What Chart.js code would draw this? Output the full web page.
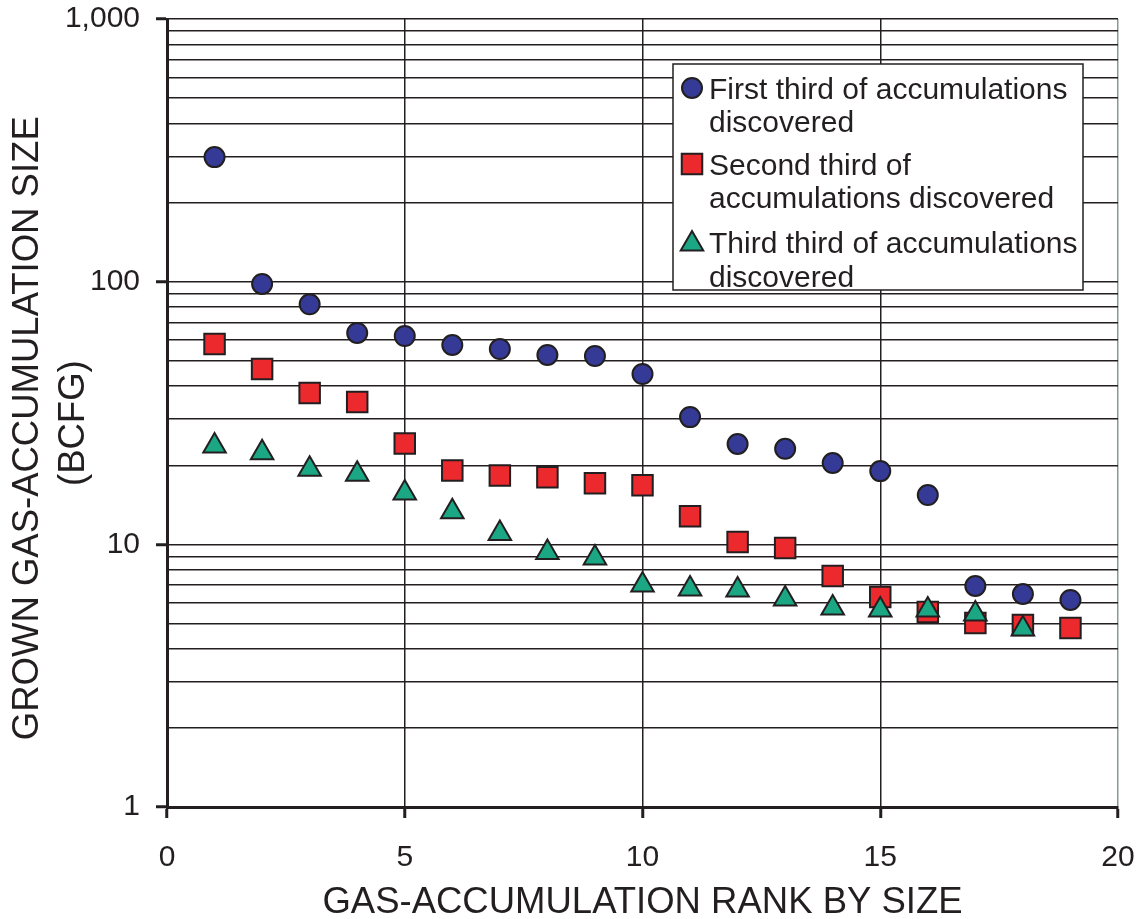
<!DOCTYPE html>
<html>
<head>
<meta charset="utf-8">
<script src="https://cdn.jsdelivr.net/npm/chart.js@4.4.1/dist/chart.umd.min.js"></script>
<style>
  html, body { margin: 0; padding: 0; background: #fff; }
  canvas { display: block; }
</style>
</head>
<body>
<canvas id="rankChart" width="1143" height="919"></canvas>
<script>
// gas-accumulation rank (x) and grown size in BCFG (y)
var ranks = [1, 2, 3, 4, 5, 6, 7, 8, 9, 10, 11, 12, 13, 14, 15, 16, 17, 18, 19];
var firstThird = [298, 98, 82, 63.8, 62.1, 57.4, 55.4, 52.6, 52.1, 44.5, 30.5, 24.1, 23.1, 20.4, 19.0, 15.4, 6.94, 6.47, 6.14];
var secondThird = [57.9, 46.5, 37.7, 34.8, 24.2, 19.1, 18.3, 18.0, 17.1, 16.8, 12.8, 10.2, 9.68, 7.57, 6.30, 5.53, 5.02, 4.93, 4.80];
var thirdThird = [23.7, 22.3, 19.3, 18.5, 15.7, 13.3, 11.0, 9.31, 8.87, 7.0, 6.76, 6.70, 6.19, 5.72, 5.62, 5.62, 5.43, 4.76];

var seriesNames = [
  ['First third of accumulations', 'discovered'],
  ['Second third of', 'accumulations discovered'],
  ['Third third of accumulations', 'discovered']
];
var xTickStep = 5;
var yDecades = [1, 10, 100, 1000];

var ink = '#231f20';
var fontFamily = '"Liberation Sans", Arial, Helvetica, sans-serif';

// every 1..9 multiple of each decade gets a grid line
var yGridValues = [];
yDecades.forEach(function (d, i) {
  if (i === yDecades.length - 1) { yGridValues.push(d); return; }
  for (var m = 1; m <= 9; m++) yGridValues.push(d * m);
});

function isDecade(v) {
  var l = Math.log10(v);
  return Math.abs(l - Math.round(l)) < 1e-9;
}

function toPoints(values) {
  return values.map(function (v, i) { return { x: ranks[i], y: v }; });
}

// legend drawn by hand so each label can wrap onto two lines
var boxLegend = {
  id: 'boxLegend',
  afterDraw: function (chart) {
    var ctx = chart.ctx;
    var ds = chart.data.datasets;
    var left = 673, top = 64, w = 410, h = 226;
    ctx.save();
    ctx.fillStyle = '#fff';
    ctx.fillRect(left, top, w, h);
    ctx.lineWidth = 1.5;
    ctx.strokeStyle = ink;
    ctx.strokeRect(left, top, w, h);

    ctx.font = '30px ' + fontFamily;
    ctx.textBaseline = 'alphabetic';
    ctx.textAlign = 'left';
    var baselines = [[99, 132], [175, 208], [253, 287]];
    ds.forEach(function (d, i) {
      var cx = 692, cy = baselines[i][0] - 11;
      ctx.beginPath();
      if (d.pointStyle === 'circle') {
        ctx.arc(cx, cy, d.pointRadius, 0, Math.PI * 2);
      } else if (d.pointStyle === 'rect') {
        var s = d.pointRadius * Math.SQRT1_2;
        ctx.rect(cx - s, cy - s, 2 * s, 2 * s);
      } else {
        var r = d.pointRadius;
        cy += 2;
        ctx.moveTo(cx, cy - r);
        ctx.lineTo(cx + Math.sin(2 * Math.PI / 3) * r, cy + r / 2);
        ctx.lineTo(cx - Math.sin(2 * Math.PI / 3) * r, cy + r / 2);
        ctx.closePath();
      }
      ctx.fillStyle = d.backgroundColor;
      ctx.fill();
      ctx.lineWidth = d.borderWidth;
      ctx.strokeStyle = d.borderColor;
      ctx.stroke();

      ctx.fillStyle = ink;
      d.label.forEach(function (line, j) {
        ctx.fillText(line, 709, baselines[i][j]);
      });
    });
    ctx.restore();
  }
};

var chart = new Chart(document.getElementById('rankChart').getContext('2d'), {
  type: 'scatter',
  data: {
    datasets: [{
      label: seriesNames[0],
      data: toPoints(firstThird),
      pointStyle: 'circle',
      pointRadius: 10,
      backgroundColor: '#353a96',
      borderColor: ink,
      borderWidth: 2,
      order: 1
    }, {
      label: seriesNames[1],
      data: toPoints(secondThird),
      pointStyle: 'rect',
      pointRadius: 14.5,
      backgroundColor: '#ec2a2e',
      borderColor: ink,
      borderWidth: 2,
      order: 3
    }, {
      label: seriesNames[2],
      data: toPoints(thirdThird),
      pointStyle: 'triangle',
      pointRadius: 13,
      backgroundColor: '#1ba784',
      borderColor: ink,
      borderWidth: 2,
      order: 2
    }]
  },
  options: {
    responsive: false,
    animation: false,
    layout: { padding: { top: 19, right: 25, left: 0, bottom: 0 } },
    plugins: {
      legend: { display: false },
      tooltip: { enabled: false }
    },
    elements: { point: { hoverRadius: 10 } },
    scales: {
      x: {
        type: 'linear',
        min: 0,
        max: 20,
        afterFit: function (scale) {
          scale.height = 112;
          scale.paddingLeft = 0;
          scale.paddingRight = 0;
        },
        ticks: {
          stepSize: xTickStep,
          color: ink,
          padding: 22,
          font: { family: fontFamily, size: 30 }
        },
        grid: {
          color: function (c) { return c.tick && c.tick.value === 20 ? '#8c969c' : ink; },
          lineWidth: 1.5,
          tickLength: 11,
          tickWidth: 3,
          tickColor: ink
        },
        border: { display: true, color: ink, width: 3 },
        title: {
          display: true,
          text: 'GAS-ACCUMULATION RANK BY SIZE',
          color: ink,
          font: { family: fontFamily, size: 36.5, lineHeight: 0.8 },
          padding: { top: 0, bottom: 1 }
        }
      },
      y: {
        type: 'logarithmic',
        min: 1,
        max: 1000,
        afterFit: function (scale) {
          scale.width = 167;
          scale.paddingTop = 0;
          scale.paddingBottom = 0;
        },
        afterBuildTicks: function (scale) {
          scale.ticks = yGridValues.map(function (v) { return { value: v }; });
        },
        ticks: {
          autoSkip: false,
          color: ink,
          padding: 16,
          font: { family: fontFamily, size: 30 },
          callback: function (v) {
            return isDecade(v) ? Number(v).toLocaleString('en-US') : '';
          }
        },
        grid: {
          color: ink,
          lineWidth: 1.5,
          tickLength: 11,
          tickWidth: 3,
          tickColor: function (c) {
            return c.tick && isDecade(c.tick.value) ? ink : 'rgba(0,0,0,0)';
          }
        },
        border: { display: true, color: ink, width: 3 },
        title: {
          display: true,
          // trailing spaces nudge the centred, rotated title down to where the original sits
          text: ['GROWN GAS-ACCUMULATION SIZE   ', '(BCFG)  '],
          color: ink,
          font: { family: fontFamily, size: 36.5, lineHeight: 1.25 },
          padding: { top: 5, bottom: 0 }
        }
      }
    }
  },
  plugins: [boxLegend]
});
</script>
</body>
</html>
